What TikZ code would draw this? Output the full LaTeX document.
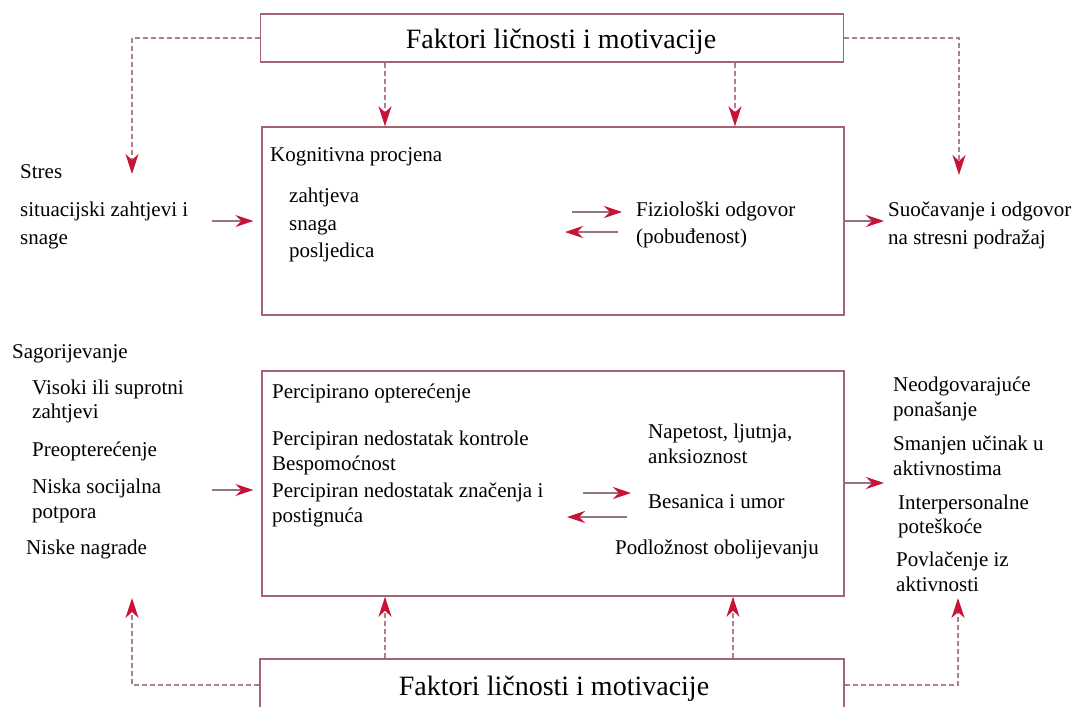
\documentclass[tikz,border=0pt]{standalone}
\usepackage{fontspec}
\setmainfont{Liberation Serif}
\usetikzlibrary{arrows.meta}
\definecolor{boxline}{RGB}{165,100,112}
\definecolor{tipred}{RGB}{200,18,55}
\definecolor{shaft}{RGB}{150,118,126}
\definecolor{dashgray}{RGB}{172,128,138}
\begin{document}
\begin{tikzpicture}[x=1pt, y=-1pt,
    box/.style={draw=boxline, line width=1.4pt, inner sep=0pt},
    txt/.style={anchor=base west, inner sep=0pt, font=\fontsize{21}{24}\selectfont},
    title/.style={font=\fontsize{28}{32}\selectfont, text height=20pt, text depth=0pt},
    arr/.style={draw=shaft, line width=1.4pt, -{Stealth[color=tipred, length=18pt, width=12pt, inset=6pt]}},
    dasharr/.style={draw=dashgray, line width=1.4pt, dash pattern=on 5pt off 3pt,
      -{Stealth[color=tipred, length=20pt, width=13pt, inset=6pt]}}]
  \useasboundingbox (0,0) rectangle (1082,707);

  % Boxes
  \node[box, title, minimum width=583pt, minimum height=48pt] (top) at (552,38) {\hspace{18pt}Faktori ličnosti i motivacije};
  \node[box, minimum width=582pt, minimum height=188pt] (kog) at (553,221) {};
  \node[box, minimum width=582pt, minimum height=225pt] (perc) at (553,483.5) {};
  \node[box, title, minimum width=584pt, minimum height=52pt] (bot) at (552,685) {\hspace{4pt}Faktori ličnosti i motivacije};

  % Stres (upper part)
  \node[txt] (stres) at (20,178) {Stres};
  \node[txt] (situ1) at (20,216) {situacijski zahtjevi i};
  \node[txt] (situ2) at (20,244) {snage};
  \node[txt] (kogt) at (270,161) {Kognitivna procjena};
  \node[txt] (zaht) at (289,202) {zahtjeva};
  \node[txt] (snaga) at (289,230) {snaga};
  \node[txt] (posl) at (289,257) {posljedica};
  \node[txt] (fiz1) at (636,216) {Fiziološki odgovor};
  \node[txt] (fiz2) at (636,243) {(pobuđenost)};
  \node[txt] (suoc1) at (888,216) {Suočavanje i odgovor};
  \node[txt] (suoc2) at (888,244) {na stresni podražaj};

  % Sagorijevanje (lower part)
  \node[txt] (sag) at (12,358) {Sagorijevanje};
  \node[txt] (vis1) at (32,394) {Visoki ili suprotni};
  \node[txt] (vis2) at (32,418) {zahtjevi};
  \node[txt] (preop) at (32,456) {Preopterećenje};
  \node[txt] (nis1) at (32,493) {Niska socijalna};
  \node[txt] (nis2) at (32,518) {potpora};
  \node[txt] (nagr) at (26,554) {Niske nagrade};
  \node[txt] (perct) at (272,398) {Percipirano opterećenje};
  \node[txt] (pn1) at (272,445) {Percipiran nedostatak kontrole};
  \node[txt] (besp) at (272,470) {Bespomoćnost};
  \node[txt] (pn2) at (272,497) {Percipiran nedostatak značenja i};
  \node[txt] (pn3) at (272,522) {postignuća};
  \node[txt] (nap1) at (648,438) {Napetost, ljutnja,};
  \node[txt] (nap2) at (648,463) {anksioznost};
  \node[txt] (besan) at (648,508) {Besanica i umor};
  \node[txt] (podl) at (615,554) {Podložnost obolijevanju};
  \node[txt] (neo1) at (893,391) {Neodgovarajuće};
  \node[txt] (neo2) at (893,416) {ponašanje};
  \node[txt] (sman1) at (893,450) {Smanjen učinak u};
  \node[txt] (sman2) at (893,475) {aktivnostima};
  \node[txt] (inter1) at (898,509) {Interpersonalne};
  \node[txt] (inter2) at (898,533) {poteškoće};
  \node[txt] (povl1) at (896,566) {Povlačenje iz};
  \node[txt] (povl2) at (896,591) {aktivnosti};

  % free ends of the connectors
  \coordinate (stresin) at (132,174);
  \coordinate (suocin) at (959,175);
  \coordinate (situout) at (212,221);
  \coordinate (suocarr) at (884,221);
  \coordinate (fizA) at (572,212);
  \coordinate (fizB) at (622,212);
  \coordinate (fizC) at (618,232);
  \coordinate (fizD) at (565,232);
  \coordinate (sagout) at (212,490);
  \coordinate (neoarr) at (884,483);
  \coordinate (napA) at (583,493);
  \coordinate (napB) at (631,493);
  \coordinate (napC) at (627,517);
  \coordinate (napD) at (567,517);
  \coordinate (sagin) at (132,598);
  \coordinate (povlin) at (958,598);

  % Dashed influence of the factors
  \draw[dasharr] (top.west) -| (stresin);
  \draw[dasharr] (top.east) -| (suocin);
  \draw[dasharr] ([xshift=-167pt]top.south) -- ([xshift=-167pt]top.south |- kog.north);
  \draw[dasharr] ([xshift=183pt]top.south) -- ([xshift=183pt]top.south |- kog.north);
  \draw[dasharr] (bot.west) -| (sagin);
  \draw[dasharr] (bot.east) -| (povlin);
  \draw[dasharr] ([xshift=-167pt]bot.north) -- ([xshift=-167pt]bot.north |- perc.south);
  \draw[dasharr] ([xshift=181pt]bot.north) -- ([xshift=181pt]bot.north |- perc.south);

  % Solid arrows
  \draw[arr, shorten >=8pt] (situout) -- (kog.west |- situout);
  \draw[arr] (kog.east |- suocarr) -- (suocarr);
  \draw[arr] (fizA) -- (fizB);
  \draw[arr] (fizC) -- (fizD);
  \draw[arr, shorten >=8pt] (sagout) -- (perc.west |- sagout);
  \draw[arr] (perc.east |- neoarr) -- (neoarr);
  \draw[arr] (napA) -- (napB);
  \draw[arr] (napC) -- (napD);
\end{tikzpicture}
\end{document}
